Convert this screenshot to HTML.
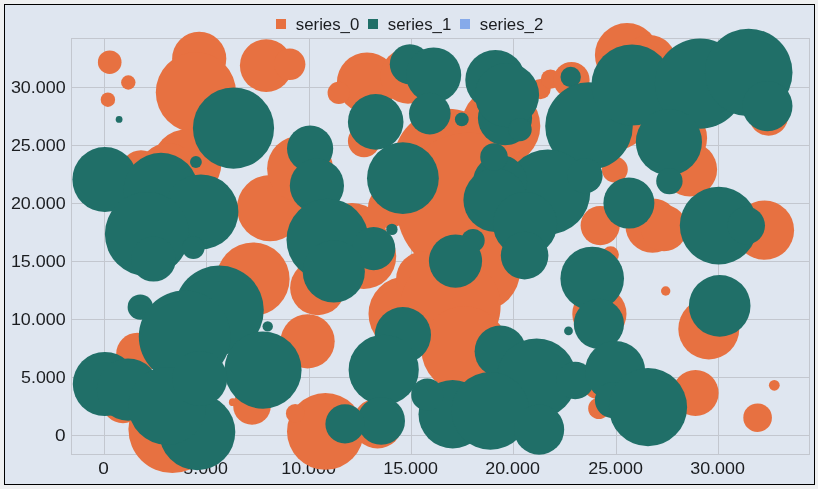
<!DOCTYPE html><html><head><meta charset="utf-8"><title>chart</title>
<style>html,body{margin:0;padding:0;background:#eff0f1;}svg{display:block;}text{font-family:"Liberation Sans",sans-serif;fill:#1b1d20;}</style></head><body>
<svg width="818" height="489" viewBox="0 0 818 489">
<rect x="0" y="0" width="818" height="489" fill="#eff0f1"/>
<rect x="4.5" y="4.5" width="810" height="480" fill="#dfe6f0" stroke="#000" stroke-width="1"/>
<path d="M104.5 38.5 V454.5 M71.5 435.5 H809.5 M206.5 38.5 V454.5 M71.5 377.5 H809.5 M309.5 38.5 V454.5 M71.5 319.5 H809.5 M411.5 38.5 V454.5 M71.5 261.5 H809.5 M513.5 38.5 V454.5 M71.5 203.5 H809.5 M616.5 38.5 V454.5 M71.5 145.5 H809.5 M718.5 38.5 V454.5 M71.5 87.5 H809.5" stroke="#c3c7cf" stroke-width="1" fill="none"/>
<rect x="71.5" y="38.5" width="738" height="416" fill="none" stroke="#c3c7cf" stroke-width="1"/>
<defs><filter id="nf" x="0" y="0" width="818" height="489" filterUnits="userSpaceOnUse"><feOffset dx="0" dy="0"/></filter></defs><g filter="url(#nf)">
<text x="98.3" y="473.8" font-size="16.4" textLength="10.6" lengthAdjust="spacingAndGlyphs">0</text>
<text x="55.1" y="441.1" font-size="16.4" textLength="10.6" lengthAdjust="spacingAndGlyphs">0</text>
<text x="183.3" y="473.8" font-size="16.4" textLength="44.6" lengthAdjust="spacingAndGlyphs">5.000</text>
<text x="21.1" y="383.1" font-size="16.4" textLength="44.6" lengthAdjust="spacingAndGlyphs">5.000</text>
<text x="281.2" y="473.8" font-size="16.4" textLength="54.8" lengthAdjust="spacingAndGlyphs">10.000</text>
<text x="10.9" y="325.1" font-size="16.4" textLength="54.8" lengthAdjust="spacingAndGlyphs">10.000</text>
<text x="383.2" y="473.8" font-size="16.4" textLength="54.8" lengthAdjust="spacingAndGlyphs">15.000</text>
<text x="10.9" y="267.1" font-size="16.4" textLength="54.8" lengthAdjust="spacingAndGlyphs">15.000</text>
<text x="485.2" y="473.8" font-size="16.4" textLength="54.8" lengthAdjust="spacingAndGlyphs">20.000</text>
<text x="10.9" y="209.1" font-size="16.4" textLength="54.8" lengthAdjust="spacingAndGlyphs">20.000</text>
<text x="588.2" y="473.8" font-size="16.4" textLength="54.8" lengthAdjust="spacingAndGlyphs">25.000</text>
<text x="10.9" y="151.1" font-size="16.4" textLength="54.8" lengthAdjust="spacingAndGlyphs">25.000</text>
<text x="690.2" y="473.8" font-size="16.4" textLength="54.8" lengthAdjust="spacingAndGlyphs">30.000</text>
<text x="10.9" y="93.1" font-size="16.4" textLength="54.8" lengthAdjust="spacingAndGlyphs">30.000</text>
<rect x="276" y="19" width="10" height="10" fill="#e77141"/>
<text x="295.8" y="29.8" font-size="16.4" textLength="63.5" lengthAdjust="spacingAndGlyphs">series_0</text>
<rect x="368" y="19" width="10" height="10" fill="#206f68"/>
<text x="387.8" y="29.8" font-size="16.4" textLength="63.5" lengthAdjust="spacingAndGlyphs">series_1</text>
<rect x="460" y="19" width="10" height="10" fill="#86aaea"/>
<text x="479.8" y="29.8" font-size="16.4" textLength="63.5" lengthAdjust="spacingAndGlyphs">series_2</text>
</g>
<g fill="#e77141">
<circle cx="109.7" cy="62.2" r="11.8"/>
<circle cx="128.3" cy="82.5" r="7.2"/>
<circle cx="107.9" cy="99.7" r="7.2"/>
<circle cx="199.2" cy="58.8" r="27.1"/>
<circle cx="195.9" cy="92.4" r="40.1"/>
<circle cx="266.2" cy="65.6" r="26.3"/>
<circle cx="289.7" cy="64.3" r="15.7"/>
<circle cx="367" cy="82.6" r="30.1"/>
<circle cx="338.8" cy="92.9" r="11.2"/>
<circle cx="364" cy="141.1" r="16.1"/>
<circle cx="500.8" cy="126" r="39.5"/>
<circle cx="540.5" cy="89.1" r="10.2"/>
<circle cx="550.5" cy="79.1" r="9.7"/>
<circle cx="571.5" cy="80" r="18.1"/>
<circle cx="627" cy="55.1" r="32.1"/>
<circle cx="649" cy="62.5" r="27.5"/>
<circle cx="768.6" cy="116.1" r="19.6"/>
<circle cx="675" cy="138.1" r="32.1"/>
<circle cx="615" cy="115.1" r="35.1"/>
<circle cx="187" cy="163.6" r="34.4"/>
<circle cx="168" cy="172.1" r="29.1"/>
<circle cx="141" cy="170.8" r="20.6"/>
<circle cx="270" cy="208.1" r="33.1"/>
<circle cx="300" cy="168.6" r="32.9"/>
<circle cx="447.4" cy="162.9" r="54.1"/>
<circle cx="469" cy="205.6" r="72.8"/>
<circle cx="388.8" cy="207.3" r="20.8"/>
<circle cx="352" cy="238.1" r="35.1"/>
<circle cx="408" cy="76.1" r="27.6"/>
<circle cx="614.8" cy="169.6" r="13"/>
<circle cx="600.2" cy="225.6" r="19.6"/>
<circle cx="652.5" cy="225.6" r="27.1"/>
<circle cx="664" cy="228.1" r="23.1"/>
<circle cx="690" cy="169.5" r="27.1"/>
<circle cx="764.5" cy="230.2" r="29.6"/>
<circle cx="137.3" cy="353.8" r="21.1"/>
<circle cx="253" cy="279.1" r="36.6"/>
<circle cx="363.7" cy="256.5" r="32.5"/>
<circle cx="317.6" cy="287.7" r="27.5"/>
<circle cx="307.6" cy="341.3" r="27.1"/>
<circle cx="406" cy="313.9" r="37.5"/>
<circle cx="423.6" cy="279" r="27.5"/>
<circle cx="480.5" cy="271.5" r="39.5"/>
<circle cx="450.5" cy="306.4" r="50.1"/>
<circle cx="464.5" cy="349.3" r="43.1"/>
<circle cx="599.4" cy="313.9" r="27.1"/>
<circle cx="610.6" cy="254.5" r="8.3"/>
<circle cx="665.7" cy="291" r="4.7"/>
<circle cx="708.8" cy="328.9" r="30.5"/>
<circle cx="252" cy="406" r="18.8"/>
<circle cx="232.8" cy="402.2" r="3.9"/>
<circle cx="172.3" cy="429.1" r="43.9"/>
<circle cx="123" cy="402.1" r="21.1"/>
<circle cx="325.4" cy="431.4" r="38.4"/>
<circle cx="295.2" cy="413.4" r="9.3"/>
<circle cx="377.5" cy="423.4" r="25.1"/>
<circle cx="598.9" cy="408.4" r="10.7"/>
<circle cx="597" cy="385.1" r="13.7"/>
<circle cx="695.5" cy="393" r="23.1"/>
<circle cx="757.6" cy="417.7" r="14.3"/>
<circle cx="774.3" cy="385.3" r="5.4"/>
</g><g fill="#206f68">
<circle cx="119.1" cy="119.4" r="3.4"/>
<circle cx="233.5" cy="128.1" r="40.6"/>
<circle cx="409.9" cy="64.3" r="20.1"/>
<circle cx="433.6" cy="75" r="27.6"/>
<circle cx="429.8" cy="113.6" r="20.8"/>
<circle cx="461.8" cy="119.4" r="6.9"/>
<circle cx="375.7" cy="121.9" r="27.8"/>
<circle cx="310.1" cy="148.6" r="23.1"/>
<circle cx="495.4" cy="80" r="30.1"/>
<circle cx="505" cy="118.1" r="27.1"/>
<circle cx="507" cy="95.1" r="32.1"/>
<circle cx="520" cy="129.6" r="11.7"/>
<circle cx="570.7" cy="77" r="10.2"/>
<circle cx="589" cy="126.1" r="43.8"/>
<circle cx="632" cy="85" r="40.6"/>
<circle cx="700" cy="83.7" r="45.1"/>
<circle cx="748.7" cy="72.5" r="43.8"/>
<circle cx="767.4" cy="106.1" r="25.1"/>
<circle cx="668.9" cy="142.1" r="33.1"/>
<circle cx="104.9" cy="179.5" r="32.5"/>
<circle cx="161" cy="190.3" r="37.5"/>
<circle cx="200.9" cy="211.9" r="37.5"/>
<circle cx="147" cy="234.1" r="42.1"/>
<circle cx="195.9" cy="162" r="5.9"/>
<circle cx="316.9" cy="185.7" r="27.1"/>
<circle cx="327.6" cy="239.8" r="41.1"/>
<circle cx="402.9" cy="178.2" r="35.9"/>
<circle cx="391.9" cy="229.4" r="5.7"/>
<circle cx="373.7" cy="248.6" r="21.6"/>
<circle cx="547.8" cy="192" r="42.5"/>
<circle cx="500" cy="182.1" r="27.1"/>
<circle cx="495.2" cy="200.1" r="31.8"/>
<circle cx="494" cy="157.1" r="13.8"/>
<circle cx="525" cy="224.1" r="32.1"/>
<circle cx="473" cy="240.6" r="11.7"/>
<circle cx="524.6" cy="255.6" r="23.8"/>
<circle cx="628.9" cy="203.1" r="25.5"/>
<circle cx="669.4" cy="181.1" r="13.2"/>
<circle cx="585" cy="175.7" r="17.6"/>
<circle cx="718.7" cy="225.6" r="38.9"/>
<circle cx="746.2" cy="225.6" r="18.8"/>
<circle cx="153.5" cy="259.1" r="22.5"/>
<circle cx="193.4" cy="247.8" r="11.2"/>
<circle cx="140.3" cy="307.1" r="12.7"/>
<circle cx="219.2" cy="310.1" r="44.6"/>
<circle cx="184.7" cy="336.5" r="45.9"/>
<circle cx="333.8" cy="271.5" r="31.1"/>
<circle cx="267.7" cy="326.4" r="5.2"/>
<circle cx="263" cy="370.1" r="38.6"/>
<circle cx="402.9" cy="335.1" r="28.1"/>
<circle cx="383.7" cy="369.8" r="35.1"/>
<circle cx="455.5" cy="261.1" r="26.6"/>
<circle cx="592.2" cy="278.5" r="31.8"/>
<circle cx="598.9" cy="323.9" r="25.1"/>
<circle cx="568.5" cy="330.9" r="4.4"/>
<circle cx="500.4" cy="351.3" r="25.8"/>
<circle cx="536.6" cy="378.5" r="40.1"/>
<circle cx="575.2" cy="380.5" r="18.8"/>
<circle cx="615.1" cy="371.1" r="30.1"/>
<circle cx="613" cy="400.1" r="18.1"/>
<circle cx="719.7" cy="305.9" r="30.8"/>
<circle cx="104.9" cy="384" r="32.1"/>
<circle cx="128" cy="389.6" r="31.1"/>
<circle cx="197.2" cy="432.1" r="38.1"/>
<circle cx="167.2" cy="406" r="38.9"/>
<circle cx="199.7" cy="378.5" r="27.5"/>
<circle cx="381.2" cy="420.9" r="23.8"/>
<circle cx="345" cy="423.9" r="19.6"/>
<circle cx="452.7" cy="414.2" r="34.2"/>
<circle cx="427.3" cy="394.7" r="16.1"/>
<circle cx="490.4" cy="410.9" r="38.9"/>
<circle cx="539.1" cy="429.6" r="25.1"/>
<circle cx="648" cy="407.2" r="39.1"/>
</g></svg></body></html>
